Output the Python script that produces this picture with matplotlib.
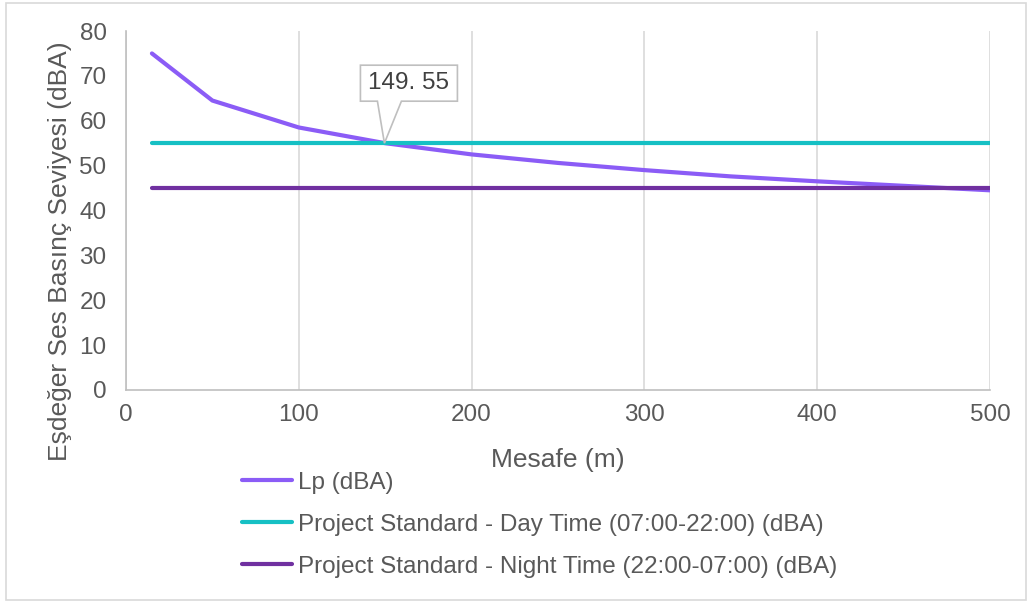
import matplotlib
matplotlib.use("Agg")
import matplotlib.pyplot as plt
from matplotlib.patches import Polygon, Rectangle
from matplotlib.transforms import ScaledTranslation

plt.rcParams['font.family'] = ['Liberation Sans', 'DejaVu Sans']

# data
distance = [15, 50, 100, 150, 200, 250, 300, 350, 400, 450, 500]
lp = [75.0, 64.5, 58.5, 55.0, 52.5, 50.6, 49.0, 47.6, 46.5, 45.5, 44.5]
day_x = [15, 500]
day_std = [55, 55]
night_x = [15, 500]
night_std = [45, 45]
cross_x, cross_y = 149.55, 55
cross_label = "149. 55"

text_col = '#595959'

fig = plt.figure(figsize=(10.29, 6.02), dpi=100)
ax = fig.add_axes([126 / 1029, 1 - 390 / 602, 864 / 1029, 359 / 602])

ax.plot(distance, lp, color='#8B5CF6', lw=3, solid_capstyle='round', label='Lp (dBA)', zorder=3)
ax.plot(day_x, day_std, color='#16C0C4', lw=3, solid_capstyle='round',
        label='Project Standard - Day Time (07:00-22:00) (dBA)', zorder=3)
ax.plot(night_x, night_std, color='#7030A0', lw=3, solid_capstyle='round',
        label='Project Standard - Night Time (22:00-07:00) (dBA)', zorder=3)

ax.set_xlim(0, 500)
ax.set_ylim(0, 80)
ax.set_xticks(range(0, 501, 100))
ax.set_yticks(range(0, 81, 10))
ax.grid(axis='x', color='#d9d9d9', lw=1.2)
ax.set_axisbelow(True)
for s in ['top', 'right']:
    ax.spines[s].set_visible(False)
for s in ['left', 'bottom']:
    ax.spines[s].set_color('#bfbfbf')
    ax.spines[s].set_linewidth(1.2)
ax.tick_params(length=0, labelsize=17.5, colors=text_col, pad=14)
ax.tick_params(axis='x', pad=10)

ax.set_xlabel('Mesafe (m)', fontsize=19, color=text_col, labelpad=16)
ax.set_ylabel('Eşdeğer Ses Basınç Seviyesi (dBA)', fontsize=19, color=text_col)
ax.yaxis.set_label_coords(-0.0625, 0.387)

# callout at the crossing point (shape in inches, offset from the data point)
trans = fig.dpi_scale_trans + ScaledTranslation(cross_x, cross_y, ax.transData)
pts = [(-0.24, 0.42), (-0.24, 0.78), (0.73, 0.78), (0.73, 0.42),
       (0.17, 0.42), (0.0, 0.0), (-0.07, 0.42)]
ax.add_patch(Polygon(pts, closed=True, transform=trans, fc='white', ec='#bfbfbf',
                     lw=1.2, zorder=5, clip_on=False))
ax.text(0.245, 0.6, cross_label, transform=trans, ha='center', va='center',
        fontsize=17.5, color='#404040', zorder=6)

fig.legend(loc='upper left', bbox_to_anchor=(232 / 1029, 1 - 462 / 602), frameon=False,
           fontsize=17.5, labelcolor=text_col, handlelength=2.05, handletextpad=0.28,
           labelspacing=0.82, borderaxespad=0)

fig.patches.append(Rectangle((6 / 1029, 2 / 602), 1020 / 1029, 597 / 602,
                             transform=fig.transFigure, fill=False, ec='#d9d9d9', lw=1.2))

fig.savefig('out.png', dpi=100)
